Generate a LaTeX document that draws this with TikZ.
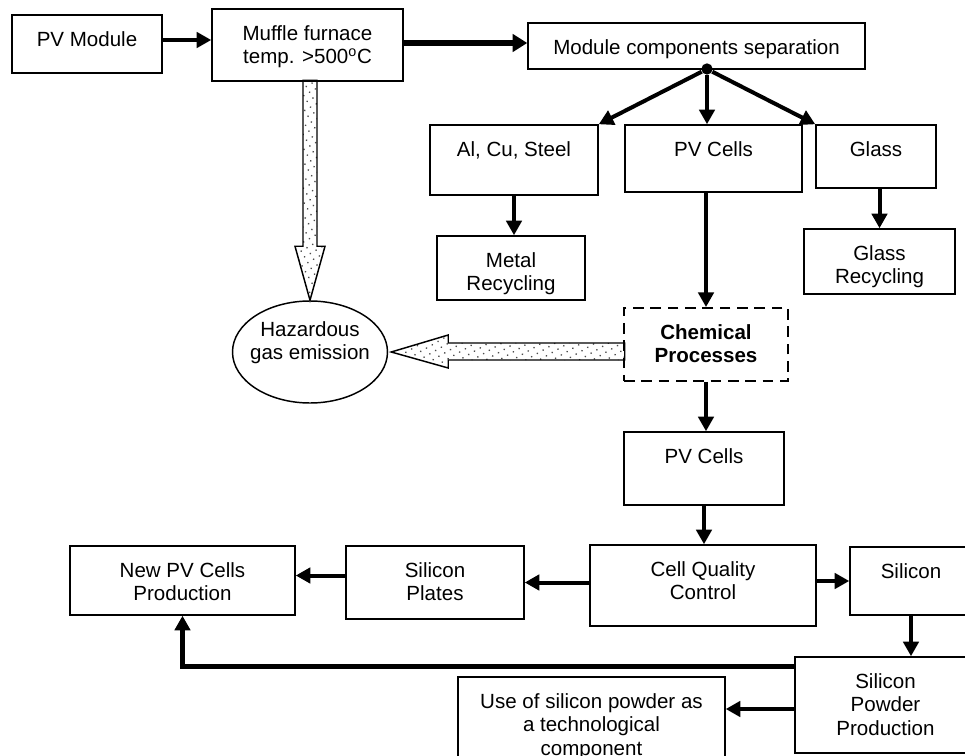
\documentclass[tikz,border=0pt]{standalone}
\usepackage{fontspec}
\setmainfont{Liberation Sans}
\usetikzlibrary{arrows.meta,calc,fit,patterns.meta,shapes.geometric}
\newcommand{\diafont}{\fontsize{15.4pt}{17.6pt}\selectfont}
\tikzset{
  box/.style={draw, line width=1.1pt, inner sep=0pt},
  dbox/.style={box, dash pattern=on 8pt off 5pt, line width=1.4pt},
  txt/.style={anchor=north, yshift=-12.75pt, align=center, inner sep=0pt, font=\diafont},
  arr/.style={line width=3pt, -{Triangle[length=11pt,width=11.5pt]}},
  thickarr/.style={line width=4.5pt, -{Triangle[length=11pt,width=13pt]}},
  hollow/.style={line width=1.1pt, line join=miter, pattern={Dots[distance=5pt,radius=0.7pt,angle=30]}, pattern color=black!70},
}

\begin{document}
\begin{tikzpicture}[x=0.75pt,y=-0.75pt,font=\diafont]
			\useasboundingbox (0,0) rectangle (965,756);
			%%%%% TOP ROW %%%%%
			\node[box, fit={(12,15) (162,73)}, label={[txt]north:PV Module}] (pv) {};
			\node[box, fit={(212,9) (403,81)}, label={[txt]north:Muffle furnace\\temp. >500\textsuperscript{o}C}] (mf) {};
			\node[box, fit={(528,23) (865,69)}, label={[txt]north:Module components separation}] (mcs) {};
			\node[circle, fill, inner sep=0pt, minimum size=8.5pt] (jn) at (707,69) {};
			
			%%%%% SEPARATED PARTS %%%%%
			\node[box, fit={(430,125) (598,195)}, label={[txt]north:Al, Cu, Steel}] (al) {};
			\node[box, fit={(625,125) (802,192)}, label={[txt]north:PV Cells}] (pvc) {};
			\node[box, fit={(816,125) (936,188)}, label={[txt]north:Glass}] (gl) {};
			\node[box, fit={(437,236) (585,300)}, label={[txt]north:Metal\\Recycling}] (mr) {};
			\node[box, fit={(804,229) (955,294)}, label={[txt]north:Glass\\Recycling}] (gr) {};
			\node[dbox, fit={(624,308) (788,381)}, label={[txt,font=\diafont\bfseries]north:Chemical\\Processes}] (chem) {};
			\node[draw, ellipse, line width=1.1pt, inner sep=0pt, minimum width=116.25pt, minimum height=76.5pt, label={[txt,yshift=-2.75pt]north:Hazardous\\gas emission}] (haz) at (310,352) {};
			
			%%%%% LOWER PART %%%%%
			\node[box, fit={(624,432) (784,505)}, label={[txt]north:PV Cells}] (pvc2) {};
			\node[box, fit={(590,545) (816,626)}, label={[txt]north:Cell Quality\\Control}] (cqc) {};
			\node[box, fit={(850,547) (972,615)}, label={[txt]north:Silicon}] (si) {};
			\node[box, fit={(346,546) (524,619)}, label={[txt]north:Silicon\\Plates}] (sp) {};
			\node[box, fit={(70,546) (295,615)}, label={[txt]north:New PV Cells\\Production}] (npc) {};
			\node[box, fit={(795,657) (976,753)}, label={[txt]north:Silicon\\Powder\\Production}] (spp) {};
			\node[box, fit={(458,677) (725,790)}, label={[txt]north:Use of silicon powder as\\a technological\\component}] (use) {};
			
			%%%%% ARROWS %%%%%
			\coordinate (a0) at ($(pv.east)+(0,-4)$);
			\draw[arr] (a0) -- (a0 -| mf.west);
			\coordinate (a1) at ($(mf.east)+(0,-2)$);
			\draw[thickarr] (a1) -- (a1 -| mcs.west);
			\draw[arr] (jn) -- (al.north east);
			\draw[arr] (jn) -- (pvc.north -| jn);
			\draw[arr] (jn) -- (gl.north west);
			\draw[arr] (al.south) -- (al.south |- mr.north);
			\draw[arr] (gr.north |- gl.south) -- (gr.north);
			\draw[arr] (chem.north |- pvc.south) -- (chem.north);
			\draw[arr] (chem.south) -- (chem.south |- pvc2.north);
			\draw[arr] (pvc2.south) -- (pvc2.south |- cqc.north);
			\draw[arr] (cqc.west |- sp.east) -- (sp.east);
			\draw[arr] (cqc.east |- si.west) -- (si.west);
			\coordinate (a2) at ($(sp.west)+(0,-7)$);
			\draw[arr] (a2) -- (a2 -| npc.east);
			\draw[arr] (si.south) -- (si.south |- spp.north);
			\coordinate (a3) at ($(spp.north west)+(0,10)$);
			\draw[arr, line width=3.5pt] (a3) -| (npc.south);
			\coordinate (a4) at ($(spp.west)+(0,4)$);
			\draw[arr] (a4) -- (a4 -| use.east);
			
			%%%%% GAS EMISSION %%%%%
			\draw[hollow] (haz.north) -- ++(-15,-54) -- ++(8,0) -- ++(0,-166) -- ++(14,0) -- ++(0,166) -- ++(8,0) -- cycle;
			\draw[hollow] ($(haz.east)+(3,0)$) -- ++(57,-17) -- ++(0,8) -- ++(176.5,0) -- ++(0,17) -- ++(-176.5,0) -- ++(0,8) -- cycle;
		\end{tikzpicture}
\end{document}
